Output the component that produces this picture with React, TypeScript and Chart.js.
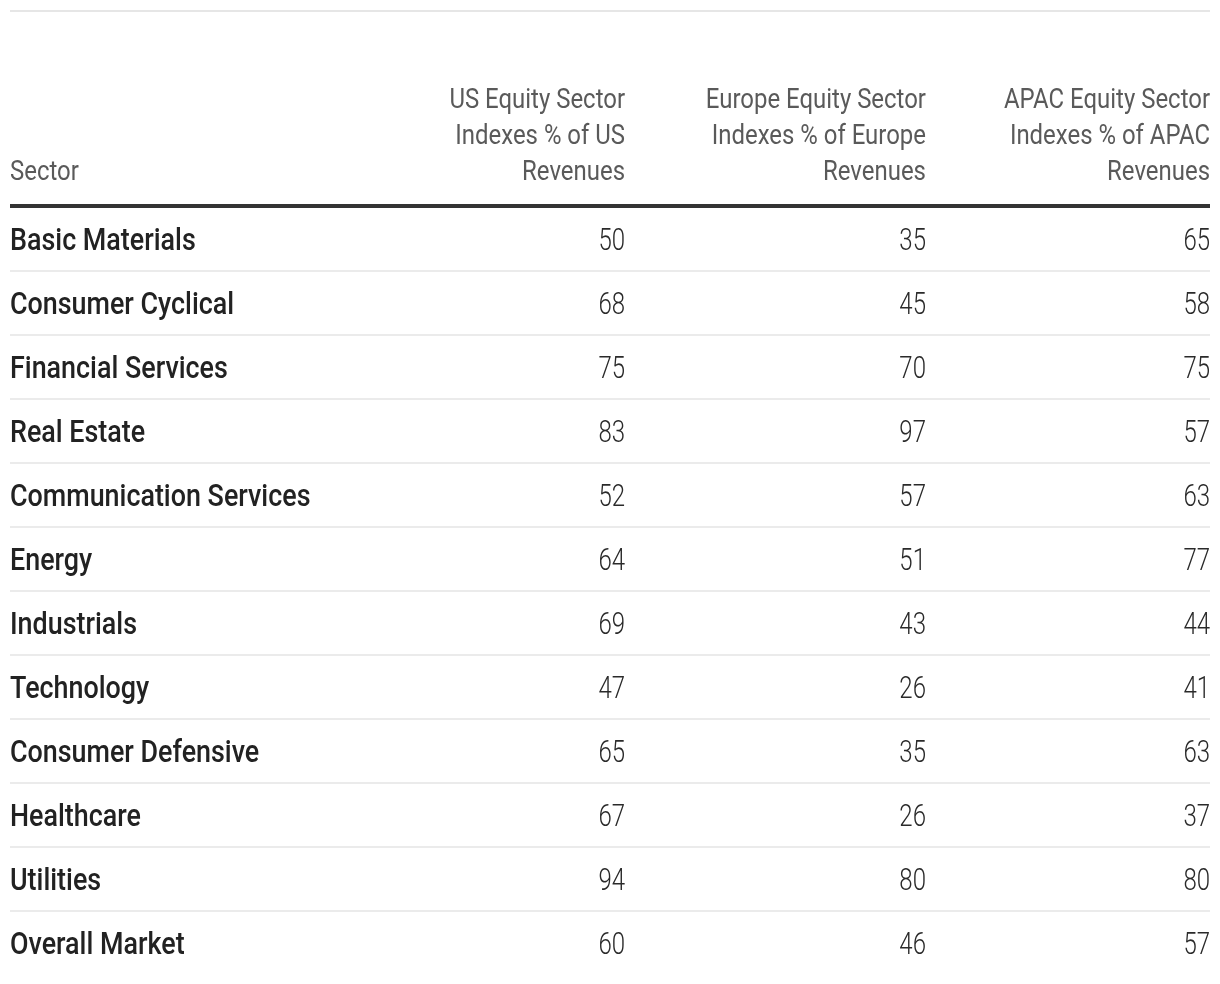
import React, { useEffect, useRef } from "react";
import { Chart, registerables } from "chart.js";

Chart.register(...registerables);

const SECTORS = [
  "Basic Materials",
  "Consumer Cyclical",
  "Financial Services",
  "Real Estate",
  "Communication Services",
  "Energy",
  "Industrials",
  "Technology",
  "Consumer Defensive",
  "Healthcare",
  "Utilities",
  "Overall Market",
];

const US_VALUES = [50, 68, 75, 83, 52, 64, 69, 47, 65, 67, 94, 60];
const EUROPE_VALUES = [35, 45, 70, 97, 57, 51, 43, 26, 35, 26, 80, 46];
const APAC_VALUES = [65, 58, 75, 57, 63, 77, 44, 41, 63, 37, 80, 57];

const FIRST_HEADER = "Sector";
const US_HEADER = ["US Equity Sector", "Indexes % of US", "Revenues"];
const EUROPE_HEADER = ["Europe Equity Sector", "Indexes % of Europe", "Revenues"];
const APAC_HEADER = ["APAC Equity Sector", "Indexes % of APAC", "Revenues"];

// layout (x-scale units, percent of table width): right edge of each value column
const COLUMN_ANCHORS = [51.25, 76.33, 100];

const FONT = 'Roboto, "DejaVu Sans Condensed", sans-serif';

function drawText(ctx: any, text: string, x: number, y: number, align: string, sx: number) {
  ctx.save();
  ctx.translate(x, y);
  ctx.scale(sx, 1);
  ctx.textAlign = align;
  ctx.fillText(text, 0, 0);
  ctx.restore();
}

const tablePlugin = {
  id: "tableText",
  afterDraw(chart: any) {
    const { ctx, chartArea, scales } = chart;
    const xs = scales.x;
    const ys = scales.y;
    const left = xs.getPixelForValue(0);
    const right = xs.getPixelForValue(100);
    const rowH = ys.getPixelForValue(1) - ys.getPixelForValue(0);
    ctx.save();
    ctx.textBaseline = "alphabetic";

    // top light rule
    ctx.fillStyle = "#e6e6e6";
    ctx.fillRect(left, 10, right - left, 2);

    // header
    const headerBase = chartArea.top - 27;
    ctx.fillStyle = "#5a5a5a";
    ctx.font = `400 28px ${FONT}`;
    drawText(ctx, FIRST_HEADER, left, headerBase, "left", 0.855);
    const headers = [US_HEADER, EUROPE_HEADER, APAC_HEADER];
    headers.forEach((lines, ci) => {
      const x = xs.getPixelForValue(COLUMN_ANCHORS[ci]);
      lines.forEach((line, li) => {
        const y = headerBase - (lines.length - 1 - li) * 36;
        drawText(ctx, line, x, y, "right", 0.855);
      });
    });

    // thick header rule
    ctx.fillStyle = "#333333";
    ctx.fillRect(left, chartArea.top - 3, right - left, 4);

    const cols = [US_VALUES, EUROPE_VALUES, APAC_VALUES];
    SECTORS.forEach((s, i) => {
      const yc = ys.getPixelForValue(i);
      if (i < SECTORS.length - 1) {
        ctx.fillStyle = "#ebebeb";
        ctx.fillRect(left, yc + rowH / 2 - 1, right - left, 2);
      }
      ctx.fillStyle = "#222222";
      ctx.font = `500 32px ${FONT}`;
      drawText(ctx, s, left, yc + 11, "left", 0.84);
      ctx.font = `300 32px ${FONT}`;
      ctx.fillStyle = "#2a2a2a";
      cols.forEach((vals, ci) => {
        drawText(ctx, String(vals[i]), xs.getPixelForValue(COLUMN_ANCHORS[ci]), yc + 11, "right", 0.75);
      });
    });
    ctx.restore();
  },
};

export default function App() {
  const ref = useRef<HTMLCanvasElement | null>(null);
  useEffect(() => {
    document.body.style.margin = "0";
    if (!ref.current) return;
    const chart = new Chart(ref.current, {
      type: "scatter",
      data: { datasets: [] },
      options: {
        animation: false,
        responsive: true,
        maintainAspectRatio: false,
        layout: { padding: { top: 207, bottom: 9, left: 10, right: 10 } },
        plugins: { legend: { display: false }, tooltip: { enabled: false } },
        scales: {
          x: { type: "linear", min: 0, max: 100, display: false },
          y: { type: "category", labels: SECTORS, offset: true, display: false },
        },
      },
      plugins: [tablePlugin],
    } as any);
    return () => chart.destroy();
  }, []);
  return (
    <div style={{ width: 1220, height: 984, position: "relative", background: "#fff" }}>
      <canvas ref={ref} />
    </div>
  );
}
